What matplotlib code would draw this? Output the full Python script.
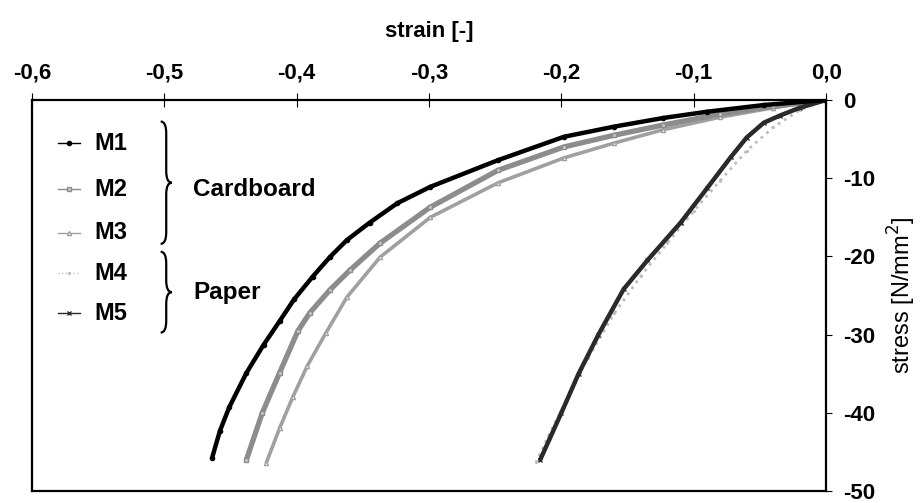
import numpy as np
import matplotlib.pyplot as plt
from matplotlib.path import Path
from matplotlib.patches import PathPatch

plt.rcParams['font.family'] = ['Liberation Sans', 'DejaVu Sans']

# Stress-strain curves, strain [-] and stress [N/mm2]
m1_strain = [0.0, -0.047, -0.09, -0.123, -0.16, -0.198, -0.248, -0.299, -0.324, -0.345,
             -0.362, -0.375, -0.388, -0.402, -0.413, -0.425, -0.438, -0.451, -0.458, -0.464]
m1_stress = [0.0, -0.64, -1.5, -2.3, -3.4, -4.7, -7.7, -11.1, -13.2, -15.7,
             -17.9, -20.1, -22.6, -25.5, -28.3, -31.3, -34.9, -39.3, -42.3, -45.8]

m2_strain = [0.0, -0.04, -0.08, -0.123, -0.16, -0.198, -0.248, -0.299, -0.337, -0.36,
             -0.375, -0.39, -0.399, -0.413, -0.426, -0.438]
m2_stress = [0.0, -0.8, -1.8, -3.2, -4.5, -6.0, -9.0, -13.7, -18.3, -21.8,
             -24.3, -27.2, -29.5, -34.9, -40.0, -46.0]

m3_strain = [0.0, -0.04, -0.08, -0.123, -0.16, -0.198, -0.248, -0.299, -0.337, -0.362,
             -0.378, -0.392, -0.403, -0.413, -0.423]
m3_stress = [0.0, -1.0, -2.2, -3.8, -5.5, -7.4, -10.6, -15.0, -20.1, -25.2,
             -29.8, -34.0, -38.0, -42.0, -46.4]

m4_strain = [0.0, -0.02, -0.04, -0.06, -0.08, -0.10, -0.12, -0.14, -0.16, -0.18,
             -0.198, -0.21, -0.219]
m4_stress = [0.0, -1.3, -3.5, -6.5, -10.3, -14.2, -18.3, -22.5, -27.3, -33.0,
             -39.0, -43.0, -46.3]

m5_strain = [0.0, -0.02, -0.035, -0.047, -0.06, -0.072, -0.09, -0.11, -0.135, -0.153,
             -0.172, -0.187, -0.2, -0.216]
m5_stress = [0.0, -1.0, -2.0, -2.9, -4.8, -7.3, -11.3, -15.7, -20.5, -24.2,
             -30.0, -35.0, -40.0, -46.0]

series_names = ['M1', 'M2', 'M3', 'M4', 'M5']
x_ticks = [-0.6, -0.5, -0.4, -0.3, -0.2, -0.1, 0.0]
x_labels = ['-0,6', '-0,5', '-0,4', '-0,3', '-0,2', '-0,1', '0,0']
y_ticks = [0, -10, -20, -30, -40, -50]

styles = {
    'M1': dict(color='black', marker='o', ms=3, lw=3.2, ls='-'),
    'M2': dict(color='#8c8c8c', marker='s', ms=3, lw=3.8, ls='-', mfc='#c8c8c8'),
    'M3': dict(color='#a0a0a0', marker='^', ms=3, lw=2.6, ls='-', mfc='white'),
    'M4': dict(color='#bdbdbd', marker='.', ms=2.5, lw=2.0, ls=':'),
    'M5': dict(color='#2a2a2a', marker='x', ms=3.5, lw=3.2, ls='-'),
}

fig = plt.figure(figsize=(9.23, 5.03), dpi=100)
ax = fig.add_axes([0.0347, 0.0239, 0.8603, 0.7773])

curves = [(m4_strain, m4_stress, 'M4'), (m3_strain, m3_stress, 'M3'),
          (m2_strain, m2_stress, 'M2'), (m5_strain, m5_stress, 'M5'),
          (m1_strain, m1_stress, 'M1')]
for xs, ys, name in curves:
    ax.plot(xs, ys, solid_capstyle='round', **styles[name])

ax.set_xlim(-0.6, 0.0)
ax.set_ylim(-50, 0)

# axis decorations: labels on top and on the right
ax.xaxis.tick_top()
ax.xaxis.set_label_position('top')
ax.set_xticks(x_ticks)
ax.set_xticklabels(x_labels, fontsize=16, fontweight='bold')
ax.tick_params(axis='x', direction='inout', length=10, width=0.8, pad=7)
ax.yaxis.tick_right()
ax.yaxis.set_label_position('right')
ax.set_yticks(y_ticks)
ax.set_yticklabels([str(v) for v in y_ticks], fontsize=16, fontweight='bold')
ax.tick_params(axis='y', direction='out', length=4, width=0.8, pad=8)
ax.set_xlabel('strain [-]', fontsize=16, fontweight='bold', labelpad=18)
ax.set_ylabel('stress [N/mm$^2$]', fontsize=17, labelpad=8)
for side in ['left', 'right', 'top', 'bottom']:
    ax.spines[side].set_linewidth(1.6)

# hand-made legend with group braces
legend_y = [0.89, 0.772, 0.66, 0.557, 0.455]
for name, yy in zip(series_names, legend_y):
    st = dict(styles[name])
    st['lw'] = 1.0
    ax.plot([0.033, 0.047, 0.061], [yy, yy, yy], transform=ax.transAxes,
            markevery=[1], clip_on=False, **st)
    ax.text(0.078, yy, name, transform=ax.transAxes, fontsize=17,
            fontweight='bold', va='center', ha='left')


def brace(ax, x0, y_top, y_bot, w=0.014, r=0.03):
    ym = (y_top + y_bot) / 2
    xm = x0 + w * 0.5
    verts = [(x0, y_top), (xm, y_top), (xm, y_top - r),
             (xm, ym + r),
             (xm, ym), (x0 + w, ym),
             (xm, ym), (xm, ym - r),
             (xm, y_bot + r),
             (xm, y_bot), (x0, y_bot)]
    codes = [Path.MOVETO, Path.CURVE3, Path.CURVE3,
             Path.LINETO,
             Path.CURVE3, Path.CURVE3,
             Path.CURVE3, Path.CURVE3,
             Path.LINETO,
             Path.CURVE3, Path.CURVE3]
    ax.add_patch(PathPatch(Path(verts, codes), transform=ax.transAxes,
                           fill=False, lw=1.6, color='black'))


brace(ax, 0.162, 0.945, 0.632)
brace(ax, 0.162, 0.612, 0.405)
ax.text(0.203, 0.772, 'Cardboard', transform=ax.transAxes, fontsize=17.5,
        fontweight='bold', va='center')
ax.text(0.203, 0.508, 'Paper', transform=ax.transAxes, fontsize=17.5,
        fontweight='bold', va='center')

fig.savefig('out.png', dpi=100)
